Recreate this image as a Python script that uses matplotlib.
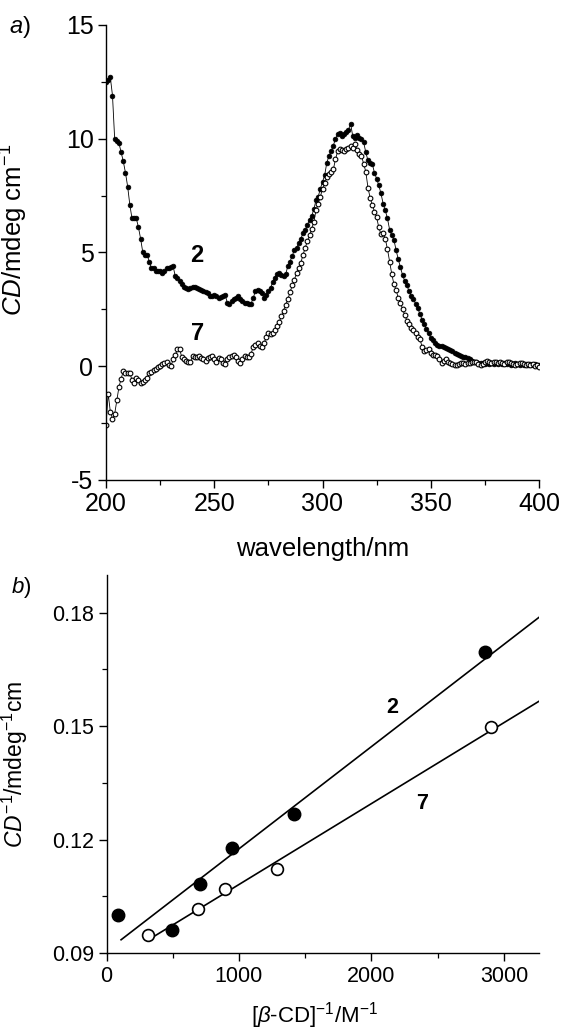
import numpy as np
import matplotlib
matplotlib.use("Agg")
import matplotlib.pyplot as plt
from matplotlib.ticker import MultipleLocator

plt.rcParams['font.family'] = ['Liberation Sans', 'DejaVu Sans']
plt.rcParams['mathtext.fontset'] = 'custom'
plt.rcParams['mathtext.rm'] = 'Liberation Sans'
plt.rcParams['mathtext.it'] = 'Liberation Sans:italic'
plt.rcParams['mathtext.bf'] = 'Liberation Sans:bold'
plt.rcParams['axes.unicode_minus'] = False

# panel a: CD spectra, one value per nm from 200 to 400 nm
wavelength = np.arange(200, 401, 1)

cd_2 = [12.5, 12.6, 12.7, 11.9, 10.0, 9.9, 9.8, 9.4, 9.0, 8.5,
        7.9, 7.1, 6.5, 6.5, 6.5, 6.1, 5.6, 5.0, 4.9, 4.9,
        4.6, 4.3, 4.3, 4.2, 4.2, 4.2, 4.1, 4.2, 4.3, 4.3,
        4.35, 4.4, 3.95, 3.9, 3.75, 3.6, 3.5, 3.45, 3.4, 3.45,
        3.5, 3.5, 3.45, 3.4, 3.35, 3.3, 3.25, 3.2, 3.1, 3.1,
        3.15, 3.1, 3.0, 3.05, 3.1, 3.15, 2.8, 2.75, 2.85, 2.95,
        3.0, 3.1, 2.95, 2.85, 2.8, 2.8, 2.75, 2.75, 3.0, 3.3,
        3.35, 3.3, 3.2, 3.0, 3.15, 3.3, 3.45, 3.7, 3.9, 4.05,
        4.1, 4.0, 3.95, 4.05, 4.4, 4.6, 4.85, 5.1, 5.2, 5.4,
        5.6, 5.85, 6.0, 6.2, 6.45, 6.6, 6.9, 7.3, 7.45, 7.8,
        8.1, 8.4, 8.95, 9.25, 9.45, 9.7, 10.0, 10.2, 10.25, 10.1,
        10.2, 10.3, 10.4, 10.65, 10.1, 10.05, 10.15, 10.05, 10.0, 9.85,
        9.4, 9.05, 8.95, 8.9, 8.5, 8.25, 7.95, 7.6, 7.15, 6.85,
        6.5, 6.0, 5.75, 5.55, 5.1, 4.7, 4.35, 4.0, 3.75, 3.55,
        3.3, 3.1, 2.95, 2.75, 2.55, 2.3, 2.05, 1.85, 1.65, 1.45,
        1.25, 1.15, 1.0, 0.95, 0.9, 0.9, 0.85, 0.8, 0.75, 0.7,
        0.65, 0.6, 0.55, 0.5, 0.45, 0.4, 0.4, 0.35, 0.3, 0.25,
        0.2, 0.2, 0.15, 0.15, 0.15, 0.1, 0.15, 0.1, 0.15, 0.1,
        0.15, 0.1, 0.15, 0.1, 0.15, 0.1, 0.15, 0.05, 0.1, 0.15,
        0.1, 0.05, 0.1, 0.05, 0.1, 0.05, 0.1, 0.05, 0.1, 0.05,
        0.05]

cd_7 = [-2.6, -1.2, -2.0, -2.3, -2.1, -1.5, -0.9, -0.55, -0.2, -0.3,
        -0.3, -0.3, -0.6, -0.75, -0.5, -0.6, -0.75, -0.7, -0.6, -0.5,
        -0.3, -0.25, -0.15, -0.1, -0.05, 0.0, 0.1, 0.15, 0.2, 0.05,
        0.0, 0.3, 0.5, 0.75, 0.75, 0.4, 0.3, 0.25, 0.2, 0.2,
        0.45, 0.4, 0.4, 0.45, 0.35, 0.3, 0.25, 0.35, 0.4, 0.45,
        0.3, 0.2, 0.35, 0.3, 0.15, 0.1, 0.3, 0.4, 0.45, 0.5,
        0.4, 0.25, 0.15, 0.3, 0.45, 0.4, 0.4, 0.55, 0.85, 0.95,
        1.0, 0.9, 0.85, 1.0, 1.3, 1.45, 1.4, 1.45, 1.6, 1.75,
        1.95, 2.2, 2.45, 2.7, 2.95, 3.25, 3.55, 3.8, 4.1, 4.3,
        4.55, 4.9, 5.2, 5.5, 5.75, 6.05, 6.35, 6.85, 7.15, 7.45,
        7.8, 8.05, 8.3, 8.45, 8.55, 8.65, 9.1, 9.45, 9.55, 9.5,
        9.45, 9.55, 9.6, 9.7, 9.6, 9.75, 9.5, 9.35, 9.25, 8.9,
        8.55, 7.85, 7.4, 7.1, 6.8, 6.55, 6.1, 5.8, 5.85, 5.6,
        5.15, 4.6, 4.05, 3.6, 3.35, 3.0, 2.8, 2.5, 2.25, 2.0,
        1.85, 1.7, 1.6, 1.45, 1.3, 1.2, 0.85, 0.65, 0.7, 0.75,
        0.6, 0.5, 0.5, 0.45, 0.3, 0.15, 0.25, 0.3, 0.2, 0.15,
        0.1, 0.05, 0.05, 0.1, 0.15, 0.15, 0.1, 0.15, 0.15, 0.2,
        0.2, 0.2, 0.1, 0.05, 0.1, 0.2, 0.25, 0.2, 0.15, 0.2,
        0.2, 0.15, 0.2, 0.15, 0.1, 0.2, 0.2, 0.15, 0.1, 0.05,
        0.1, 0.15, 0.15, 0.1, 0.05, 0.1, 0.05, 0.1, 0.0, 0.05,
        -0.05]

# panel b: double reciprocal plot
inv_cd_x_2 = [90, 495, 707, 944, 1419, 2861]
inv_cd_y_2 = [0.1000, 0.0961, 0.1082, 0.1178, 0.1268, 0.1695]
inv_cd_x_7 = [315, 694, 891, 1288, 2900]
inv_cd_y_7 = [0.0947, 0.1017, 0.1070, 0.1122, 0.1498]
fit_x_2 = [110, 3265]
fit_y_2 = [0.0935, 0.1788]
fit_x_7 = [345, 3265]
fit_y_7 = [0.0941, 0.1566]

W, H = 563, 1034
fig = plt.figure(figsize=(W / 100, H / 100), dpi=100)


def style_axes(ax, size):
    ax.spines['top'].set_visible(False)
    ax.spines['right'].set_visible(False)
    for s in ('left', 'bottom'):
        ax.spines[s].set_linewidth(1.0)
    ax.tick_params(which='major', direction='out', length=6, width=1.0,
                   labelsize=size, pad=3)
    ax.tick_params(which='minor', direction='out', length=3.5, width=0.9)


# ---- a) ----
ax1 = fig.add_axes([106 / W, 1 - 480 / H, 433 / W, 455 / H])
ax1.plot(wavelength, cd_2, '-', color='black', lw=0.6, marker='o', ms=3.4,
         mfc='black', mec='black', mew=0.5)
ax1.plot(wavelength, cd_7, '-', color='black', lw=0.6, marker='o', ms=3.4,
         mfc='white', mec='black', mew=0.8)
ax1.set_xlim(200, 400)
ax1.set_ylim(-5, 15)
ax1.xaxis.set_major_locator(MultipleLocator(50))
ax1.xaxis.set_minor_locator(MultipleLocator(25))
ax1.yaxis.set_major_locator(MultipleLocator(5))
ax1.yaxis.set_minor_locator(MultipleLocator(2.5))
style_axes(ax1, 18)
ax1.set_xlabel("wavelength/nm", fontsize=18.5)
ax1.xaxis.set_label_coords(0.5, -0.125)
ax1.set_ylabel(r"$\mathit{CD}$/mdeg cm$^{-1}$", fontsize=18.5)
ax1.yaxis.set_label_coords(-0.175, 0.55)
ax1.text(242, 4.85, "2", fontsize=17, fontweight='bold', ha='center', va='center')
ax1.text(242.5, 1.45, "7", fontsize=17, fontweight='bold', ha='center', va='center')
fig.text(20 / W, 1 - 27 / H, r"$\mathit{a}$)", fontsize=17, ha='center', va='center')

# ---- b) ----
ax2 = fig.add_axes([106.5 / W, 1 - 953 / H, 432.5 / W, 378 / H])
ax2.plot(fit_x_2, fit_y_2, '-', color='black', lw=1.2)
ax2.plot(fit_x_7, fit_y_7, '-', color='black', lw=1.2)
ax2.plot(inv_cd_x_2, inv_cd_y_2, 'o', ms=9, mfc='black', mec='black')
ax2.plot(inv_cd_x_7, inv_cd_y_7, 'o', ms=8.5, mfc='white', mec='black', mew=1.2)
ax2.set_xlim(0, 3265)
ax2.set_ylim(0.09, 0.19)
ax2.xaxis.set_major_locator(MultipleLocator(1000))
ax2.xaxis.set_minor_locator(MultipleLocator(500))
ax2.set_yticks([0.09, 0.12, 0.15, 0.18])
ax2.set_yticklabels(["0.09", "0.12", "0.15", "0.18"])
ax2.yaxis.set_minor_locator(MultipleLocator(0.015))
style_axes(ax2, 15.5)
ax2.set_xlabel(r"[$\mathit{\beta}$-CD]$^{-1}$/M$^{-1}$", fontsize=16)
ax2.xaxis.set_label_coords(0.48, -0.125)
ax2.set_ylabel(r"$\mathit{CD}^{-1}$/mdeg$^{-1}$cm", fontsize=16.5)
ax2.yaxis.set_label_coords(-0.178, 0.5)
ax2.text(2155, 0.155, "2", fontsize=15.5, fontweight='bold', ha='center', va='center')
ax2.text(2380, 0.1296, "7", fontsize=15.5, fontweight='bold', ha='center', va='center')
fig.text(21 / W, 1 - 588 / H, r"$\mathit{b}$)", fontsize=16, ha='center', va='center')

fig.savefig("out.png", dpi=100)
